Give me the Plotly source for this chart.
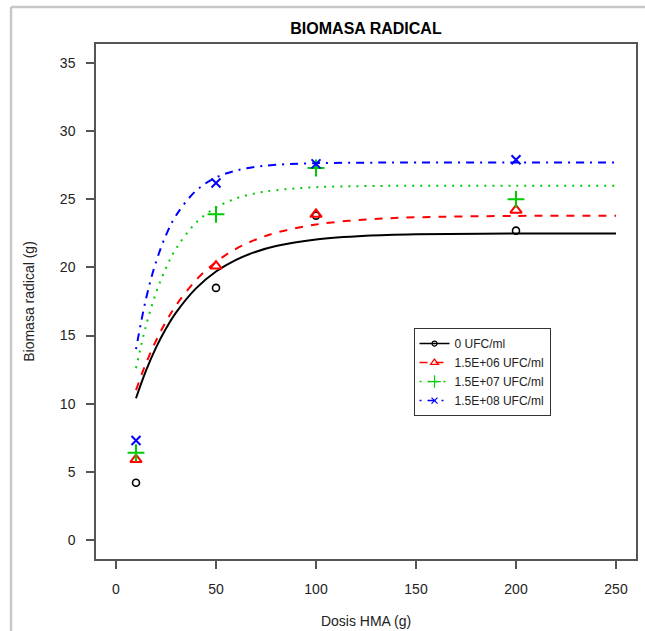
import plotly.graph_objects as go

# Observed root biomass (g) by HMA dose (g), one list per inoculum level
dose = [10, 50, 100, 200]
obs_0 = [4.2, 18.5, 23.8, 22.7]
obs_e6 = [5.9, 20.1, 23.9, 24.2]
obs_e7 = [6.4, 23.9, 27.3, 25.0]
obs_e8 = [7.3, 26.2, 27.6, 27.9]

# Fitted response curves
curve_x = [10, 15, 20, 25, 30, 40, 50, 60, 70, 80, 100, 125, 150, 200, 250]
fit_0 = [10.4, 12.42, 14.11, 15.51, 16.68, 18.46, 19.70, 20.56, 21.15, 21.57, 22.05, 22.32, 22.43, 22.49, 22.5]
fit_e6 = [11.0, 12.96, 14.62, 16.02, 17.21, 19.07, 20.40, 21.37, 22.05, 22.55, 23.15, 23.52, 23.68, 23.78, 23.8]
fit_e7 = [12.6, 15.73, 18.12, 19.96, 21.37, 23.28, 24.40, 25.06, 25.45, 25.67, 25.89, 25.97, 26.0, 26.0, 26.0]
fit_e8 = [14.0, 17.70, 20.40, 22.37, 23.81, 25.63, 26.60, 27.11, 27.39, 27.53, 27.65, 27.69, 27.7, 27.7, 27.7]

labels = ["0 UFC/ml", "1.5E+06 UFC/ml", "1.5E+07 UFC/ml", "1.5E+08 UFC/ml"]
x_ticks = [0, 50, 100, 150, 200, 250]
y_ticks = [0, 5, 10, 15, 20, 25, 30, 35]

series = [
    (labels[0], obs_0, fit_0, "black", "solid", "circle-open", 7, 1.6),
    (labels[1], obs_e6, fit_e6, "#ff0000", "8px,8px", "triangle-up-open", 10, 2),
    (labels[2], obs_e7, fit_e7, "#00cc00", "2px,6px", "cross-thin-open", 12, 2),
    (labels[3], obs_e8, fit_e8, "#0000ff", "2px,6px,8px,6px", "x-thin-open", 9, 2),
]

FONT = "Liberation Sans, Arial, sans-serif"
fig = go.Figure()

for name, obs, fit, color, dash, symbol, msize, mlw in series:
    fig.add_trace(go.Scatter(
        x=curve_x, y=fit, mode="lines", showlegend=False,
        line=dict(color=color, width=2, dash=dash, shape="spline", smoothing=1),
    ))
for name, obs, fit, color, dash, symbol, msize, mlw in series:
    fig.add_trace(go.Scatter(
        x=dose, y=obs, mode="markers", showlegend=False,
        marker=dict(symbol=symbol, size=msize, color=color,
                    line=dict(color=color, width=mlw)),
    ))
# legend entries (line + symbol)
for name, obs, fit, color, dash, symbol, msize, mlw in series:
    fig.add_trace(go.Scatter(
        x=[None], y=[None], mode="lines+markers", name=name,
        line=dict(color=color, width=1.5, dash=dash),
        marker=dict(symbol=symbol, size=max(msize - 3, 5), color=color,
                    line=dict(color=color, width=1.2)),
    ))

axis_common = dict(
    showline=True, mirror=True, linecolor="#555555", linewidth=1.5,
    ticks="outside", ticklen=8, tickwidth=1.5, tickcolor="#555555",
    showgrid=False, zeroline=False, automargin=False,
    tickfont=dict(family=FONT, size=14, color="#222222"),
)

fig.update_layout(
    width=645, height=631,
    margin=dict(l=96, r=9, t=44, b=72),
    paper_bgcolor="white", plot_bgcolor="white",
    title=dict(text="<b>BIOMASA RADICAL</b>", x=0.5, xref="paper", xanchor="center",
               y=1 - 28 / 631, yref="container", yanchor="middle",
               font=dict(family=FONT, size=16, color="black")),
    xaxis=dict(range=[-10, 260], tickvals=x_ticks, ticklabelstandoff=8,
               title=dict(text="Dosis HMA (g)", standoff=21,
                          font=dict(family=FONT, size=14, color="#222222")),
               **axis_common),
    yaxis=dict(range=[-1.4, 36.4], tickvals=y_ticks, ticklabelstandoff=8,
               title=dict(text="Biomasa radical (g)", standoff=22,
                          font=dict(family=FONT, size=14, color="#222222")),
               **axis_common),
    legend=dict(x=0.588, y=0.363, xanchor="left", yanchor="middle",
                bgcolor="white", bordercolor="#333333", borderwidth=1,
                font=dict(family=FONT, size=12, color="#222222"),
                itemwidth=30, tracegroupgap=0),
    showlegend=True,
)

# light gray outer frame (top and left edges)
fig.add_shape(type="line", xref="paper", yref="paper", layer="above",
              x0=-0.1574, x1=1.03, y0=1.0718, y1=1.0718,
              line=dict(color="#c8c8c8", width=2.5))
fig.add_shape(type="line", xref="paper", yref="paper", layer="above",
              x0=-0.1574, x1=-0.1574, y0=1.0718, y1=-0.1398,
              line=dict(color="#c8c8c8", width=2.5))

fig.write_html("out.html")
